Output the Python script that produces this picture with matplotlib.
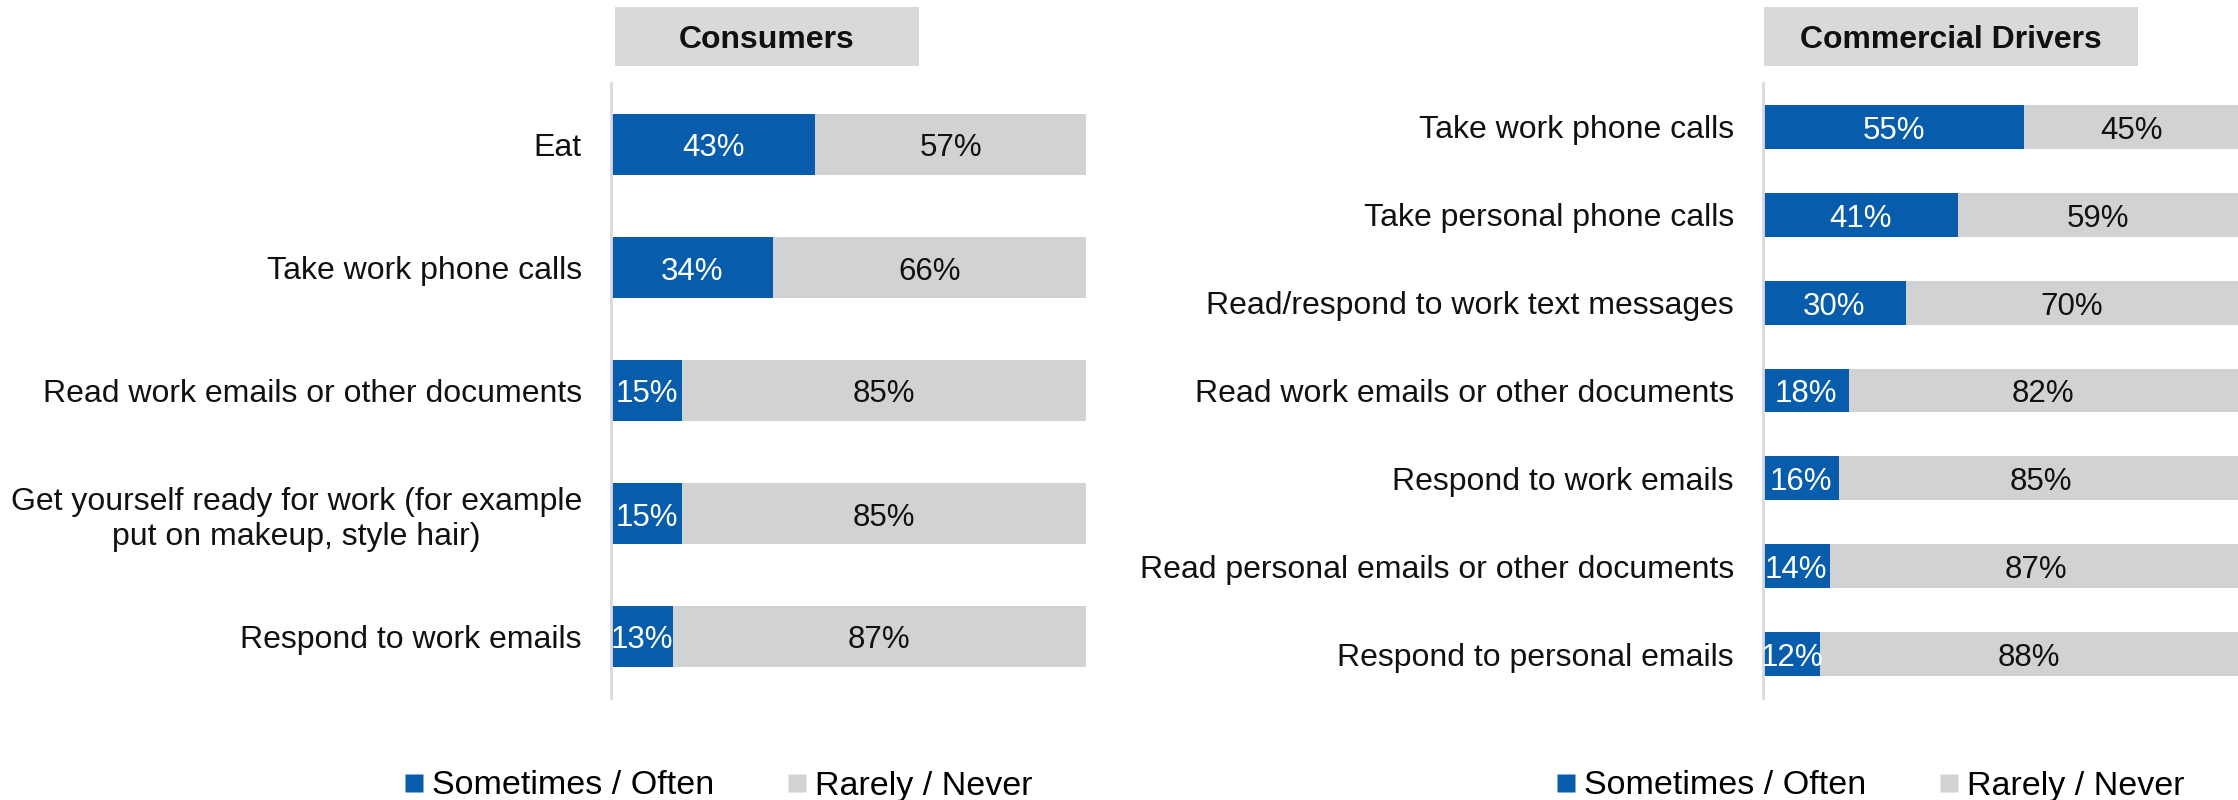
import matplotlib.pyplot as plt
from matplotlib.patches import Rectangle
from matplotlib.lines import Line2D
from matplotlib.transforms import offset_copy

plt.rcParams['font.family'] = ['Liberation Sans', 'DejaVu Sans']

BLUE = '#075DAB'
GREY = '#D1D2D4'
BOX = '#D9D9D9'
INK = '#111111'

# consumers
consumer_tasks = ["Eat",
                  "Take work phone calls",
                  "Read work emails or other documents",
                  "Get yourself ready for work (for example\nput on makeup, style hair)",
                  "Respond to work emails"]
consumer_often = [43, 34, 15, 15, 13]
consumer_rarely = [57, 66, 85, 85, 87]

# commercial drivers
driver_tasks = ["Take work phone calls",
                "Take personal phone calls",
                "Read/respond to work text messages",
                "Read work emails or other documents",
                "Respond to work emails",
                "Read personal emails or other documents",
                "Respond to personal emails"]
driver_often = [55, 41, 30, 18, 16, 14, 12]
driver_rarely = [45, 59, 70, 82, 85, 87, 88]

series_names = ["Sometimes / Often", "Rarely / Never"]

W, H = 2238, 800
fig = plt.figure(figsize=(W / 100, H / 100), dpi=100)


def px_axes(x0, x1, y0, y1):
    return fig.add_axes([x0 / W, 1 - y1 / H, (x1 - x0) / W, (y1 - y0) / H])


def draw_panel(ax, tasks, often, rarely):
    n = len(tasks)
    ys = list(range(n))
    ax.barh(ys, often, height=0.5, color=BLUE)
    ax.barh(ys, rarely, left=often, height=0.5, color=GREY)
    # baseline sits a little below the bar middle so the digits look centred
    tr = offset_copy(ax.transData, fig=fig, y=-12, units='dots')
    for y, a, b in zip(ys, often, rarely):
        ax.text(a / 2, y, f"{a}%", ha='center', va='baseline', color='white',
                fontsize=22.5, transform=tr)
        ax.text(a + b / 2, y, f"{b}%", ha='center', va='baseline', color=INK,
                fontsize=22.5, transform=tr)
    ax.set_xlim(0, 100)
    ax.set_ylim(n - 0.5, -0.5)
    ax.set_yticks(ys)
    ax.set_yticklabels(tasks, fontsize=23, color=INK)
    for lbl in ax.get_yticklabels():
        lbl.set_multialignment('center')
    ax.tick_params(axis='y', length=0, pad=21)
    ax.set_xticks([])
    for side in ['top', 'right', 'bottom']:
        ax.spines[side].set_visible(False)
    ax.spines['left'].set_color(BOX)
    ax.spines['left'].set_linewidth(2)
    ax.patch.set_visible(False)


def title_box(x0, x1, text):
    fig.patches.append(Rectangle((x0 / W, 1 - 66 / H), (x1 - x0) / W, 59 / H,
                                 transform=fig.transFigure, facecolor=BOX,
                                 edgecolor='none', zorder=0))
    fig.text((x0 + x1) / 2 / W, 1 - 48 / H, text, ha='center', va='baseline',
             fontsize=23, fontweight='bold', color=INK)


def legend_at(x, y):
    handles = [Line2D([], [], marker='s', linestyle='none', markersize=13,
                      markerfacecolor=c, markeredgecolor='none') for c in (BLUE, GREY)]
    fig.legend(handles, series_names, loc='center left',
               bbox_to_anchor=(x / W, 1 - y / H), ncol=2, frameon=False,
               fontsize=24.5, handlelength=0.53, handletextpad=0.26,
               columnspacing=2.18, borderpad=0, borderaxespad=0)


ax1 = px_axes(611, 1086, 83, 698)
draw_panel(ax1, consumer_tasks, consumer_often, consumer_rarely)
title_box(615, 919, "Consumers")
legend_at(405, 786)

ax2 = px_axes(1763, 2238, 83, 698)
draw_panel(ax2, driver_tasks, driver_often, driver_rarely)
title_box(1764, 2138, "Commercial Drivers")
legend_at(1557, 786)

fig.savefig("out.png", dpi=100)
